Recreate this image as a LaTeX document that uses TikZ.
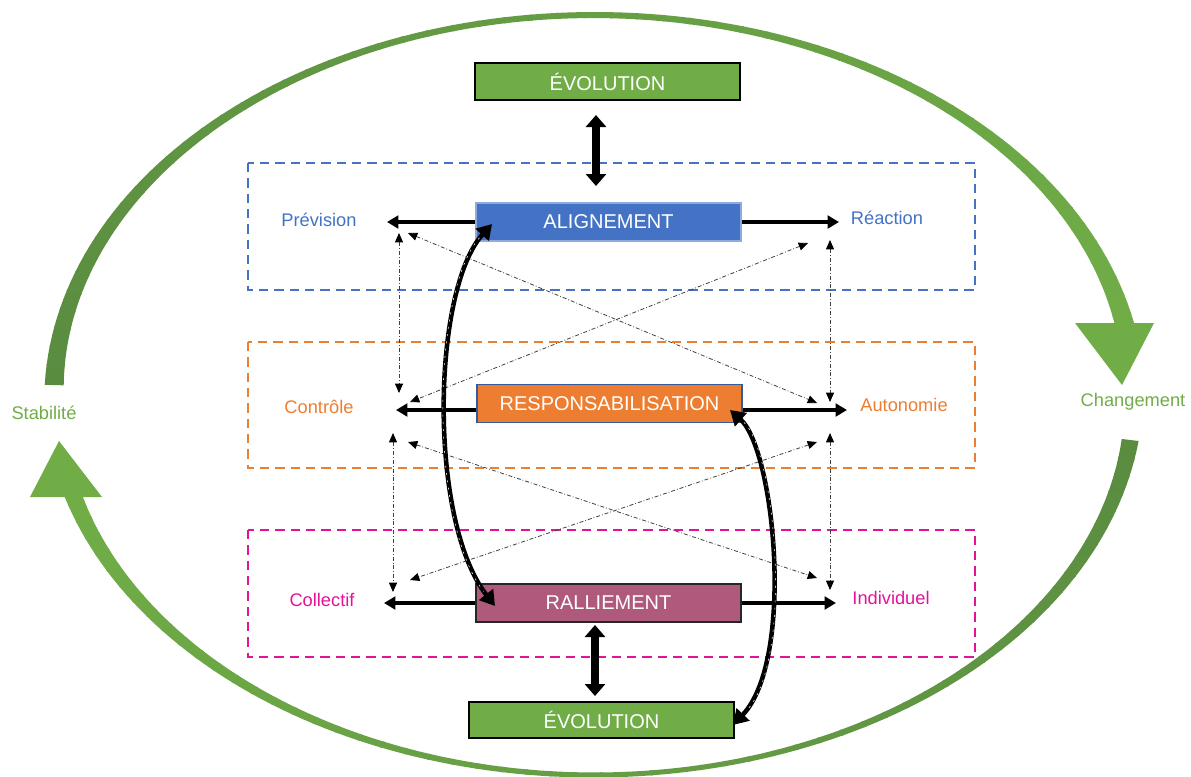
\documentclass[tikz,border=0pt]{standalone}
\usepackage{fontspec}
\setmainfont{Liberation Sans}
\usetikzlibrary{arrows.meta,calc}
\definecolor{dkg}{HTML}{5A8C40}
\definecolor{ltg}{HTML}{70AD47}
\definecolor{bl}{HTML}{4472C4}
\definecolor{org}{HTML}{ED7D31}
\definecolor{mag}{HTML}{E2129B}
\definecolor{mauve}{HTML}{AF5A7C}
\begin{document}
\begin{tikzpicture}[x=0.75pt,y=-0.75pt,
  declare function={wu(\t)=6+13*((\t-94.7)/83.8)^2; wl(\t)=5+12*((\t+85.6)/78.8)^2;},
  box/.style={draw, line width=0.8pt, minimum width=198.75pt, minimum height=28.5pt, inner sep=0pt, text=white, font=\fontsize{15}{18}\selectfont},
  lbl/.style={font=\fontsize{13.7}{16}\selectfont, inner sep=0pt},
  frame/.style={line width=1.5pt, dash pattern=on 7pt off 4.5pt},
  harrow/.style={line width=2.6pt, -{Triangle[width=9.5pt,length=8.5pt]}},
  vdarrow/.style={line width=6pt, {Triangle[width=15pt,length=9pt]}-{Triangle[width=15pt,length=9pt]}},
  ddarrow/.style={line width=0.6pt, draw=black!75, dash pattern=on 3pt off 1.5pt on 0.6pt off 1.5pt, {Triangle[width=6pt,length=7pt,color=black]}-{Triangle[width=6pt,length=7pt,color=black]}},
  carrow/.style={line width=3.4pt, {Triangle[width=13pt,length=11pt]}-{Triangle[width=13pt,length=11pt]}},
  cinner/.style={line width=0.4pt, draw=white, dash pattern=on 1.5pt off 4pt, shorten <=14pt, shorten >=14pt}
]
\useasboundingbox (0,0) rectangle (1191,776);

% big cycle arcs (tapered, gradient)
\foreach \i in {0,...,59}{
  \pgfmathsetmacro\a{178.5-\i*(169/60)}
  \pgfmathsetmacro\b{\a-169/60-0.3}
  \pgfmathtruncatemacro\p{100-\i*100/59}
  \fill[dkg!\p!ltg] plot[domain=\a:\b, samples=3, variable=\t] ({594+(540+wu(\t)/2)*cos(\t)},{395-(380+wu(\t)/2)*sin(\t)})
     -- plot[domain=\b:\a, samples=3, variable=\t] ({594+(540-wu(\t)/2)*cos(\t)},{395-(380-wu(\t)/2)*sin(\t)}) -- cycle;
}
\foreach \i in {0,...,59}{
  \pgfmathsetmacro\a{-6.8-\i*(159.2/60)}
  \pgfmathsetmacro\b{\a-159.2/60-0.3}
  \pgfmathtruncatemacro\p{100-\i*100/59}
  \fill[dkg!\p!ltg] plot[domain=\a:\b, samples=3, variable=\t] ({594+(540+wl(\t)/2)*cos(\t)},{395-(380+wl(\t)/2)*sin(\t)})
     -- plot[domain=\b:\a, samples=3, variable=\t] ({594+(540-wl(\t)/2)*cos(\t)},{395-(380-wl(\t)/2)*sin(\t)}) -- cycle;
}
\fill[ltg] (1075,323) -- (1154,323) -- (1122,385) -- cycle;
\fill[ltg] (30,497) -- (102,497) -- (59,441) -- cycle;
\node[lbl, text=ltg] (stab) at (44,413) {Stabilité};
\node[lbl, text=ltg] (chg) at (1133,402) {Changement};

% dashed frames
\draw[frame, draw=bl] (248,163) rectangle (975,290);
\draw[frame, draw=org] (248,342) rectangle (975,468);
\draw[frame, draw=mag] (248,530) rectangle (975,657);

% central boxes
\node[box, fill=ltg, minimum height=27.75pt] (evoT) at (607.5,81.5) {ÉVOLUTION};
\node[box, fill=bl, draw=bl!60!white] (align) at (608.5,222) {ALIGNEMENT};
\node[box, fill=org, draw=bl!80!black] (resp) at (609.5,403.5) {RESPONSABILISATION};
\node[box, fill=mauve, draw=black!85] (rall) at (608.5,603) {RALLIEMENT};
\node[box, fill=ltg, minimum height=27pt] (evoB) at (601.5,720) {ÉVOLUTION};

% side labels
\node[lbl, text=bl] (prev) at (319,220) {Prévision};
\node[lbl, text=bl] (react) at (887,218) {Réaction};
\node[lbl, text=org] (ctrl) at (319,407) {Contrôle};
\node[lbl, text=org] (auto) at (904,405) {Autonomie};
\node[lbl, text=mag] (coll) at (322,600) {Collectif};
\node[lbl, text=mag] (indiv) at (891,598) {Individuel};

% coordinates
\coordinate (alL) at (387,222);
\coordinate (alR) at (839,222);
\coordinate (rsL) at (396,410);
\coordinate (rsR) at (847,410);
\coordinate (raL) at (384,603);
\coordinate (raR) at (836,603);
\coordinate (v1a) at (596,115);
\coordinate (v1b) at (596,186);
\coordinate (v2a) at (595,625);
\coordinate (v2b) at (595,696);
\coordinate (L1a) at (399,233); \coordinate (L1b) at (399,393);
\coordinate (L2a) at (393,433); \coordinate (L2b) at (393,592);
\coordinate (R1a) at (830,240); \coordinate (R1b) at (830,402);
\coordinate (R2a) at (830,433); \coordinate (R2b) at (830,590);
\coordinate (D1a) at (408,233); \coordinate (D1b) at (817,403);
\coordinate (D2a) at (808,243); \coordinate (D2b) at (410,402);
\coordinate (D3a) at (408,442); \coordinate (D3b) at (817,578);
\coordinate (D4a) at (817,442); \coordinate (D4b) at (410,580);
\coordinate (c1a) at (492,224); \coordinate (c1b) at (495,606);
\coordinate (c2a) at (730,410); \coordinate (c2b) at (733,725);

% horizontal arrows
\draw[harrow] (align.west) -- (alL);
\draw[harrow] (align.east) -- (alR);
\draw[harrow] (rsL -| resp.west) -- (rsL);
\draw[harrow] (rsR -| resp.east) -- (rsR);
\draw[harrow] (rall.west) -- (raL);
\draw[harrow] (rall.east) -- (raR);

% vertical thick double arrows
\draw[vdarrow] (v1a) -- (v1b);
\draw[vdarrow] (v2a) -- (v2b);

% dash-dot arrows
\draw[ddarrow] (L1a) -- (L1b);
\draw[ddarrow] (L2a) -- (L2b);
\draw[ddarrow] (R1a) -- (R1b);
\draw[ddarrow] (R2a) -- (R2b);
\draw[ddarrow] (D1a) -- (D1b);
\draw[ddarrow] (D2a) -- (D2b);
\draw[ddarrow] (D3a) -- (D3b);
\draw[ddarrow] (D4a) -- (D4b);

% curved arrows
\draw[carrow] (c1a) .. controls (432,290) and (428,520) .. (c1b);
\draw[cinner] (c1a) .. controls (432,290) and (428,520) .. (c1b);
\draw[carrow] (c2a) .. controls (775,450) and (795,660) .. (c2b);
\draw[cinner] (c2a) .. controls (775,450) and (795,660) .. (c2b);
\end{tikzpicture}
\end{document}
